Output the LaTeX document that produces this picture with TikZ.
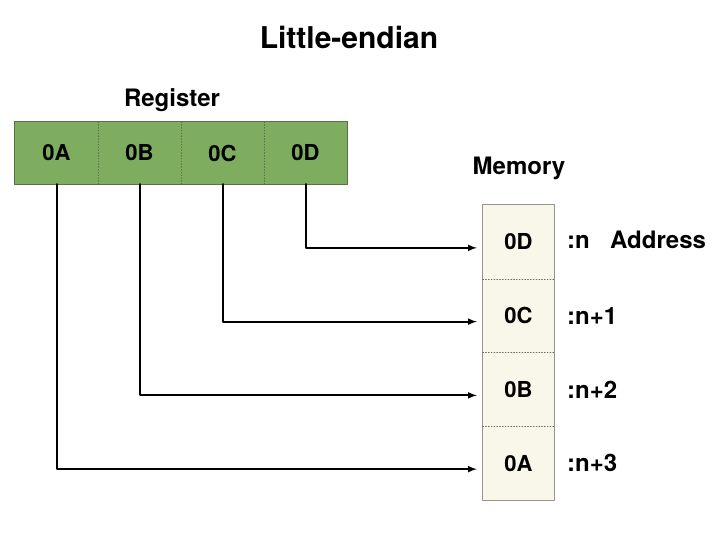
\documentclass[tikz,border=0pt]{standalone}
\usepackage{fontspec}
\setmainfont{TeX Gyre Heros}
\definecolor{regfill}{RGB}{126,173,96}
\definecolor{regedge}{RGB}{88,112,72}
\definecolor{memfill}{RGB}{249,247,233}
\definecolor{memedge}{RGB}{150,150,138}
\begin{document}
\begin{tikzpicture}[x=1pt,y=-1pt,line cap=round,line join=round,>=latex,
 regcell/.style={fill=regfill,minimum width=83pt,minimum height=62pt,inner sep=0pt,font=\fontsize{22}{22}\bfseries},
 memcell/.style={fill=memfill,minimum width=71pt,minimum height=73.75pt,inner sep=0pt,font=\fontsize{22}{22}\bfseries},
 lbl/.style={font=\fontsize{24}{24}\bfseries,inner sep=0pt}]
 \useasboundingbox(0,0)rectangle(720,534);
 \node[font=\fontsize{30}{30}\bfseries,inner sep=0pt,anchor=base](title)at(349,49){Little-endian};
 \node[lbl,anchor=base](reglabel)at(172,107){Register};
 \node[lbl,anchor=base](memlabel)at(519,175){Memory};
 \foreach \t [count=\i] in{0A,0B,0C,0D}
 \node[regcell](reg\t)at({15+83*(\i-0.5)},153){\t};
 \foreach \t/\a [count=\i] in{0D/{:n},0C/{:n+1},0B/{:n+2},0A/{:n+3}}
 {\node[memcell](mem\t)at(518.5,{205+73.75*(\i-0.5)}){\t};
 \node[lbl,anchor=west](addr\t)at(567,{205+73.75*(\i-0.5)}){\a};}
 \node[lbl,anchor=base west](address)at(addr0D.base -| 610,0){Address};
 \draw[regedge,line width=1pt](reg0A.north west)rectangle(reg0D.south east);
 \foreach \t in{0A,0B,0C}
 \draw[regedge,dotted,line width=0.8pt](reg\t.north east)--(reg\t.south east);
 \draw[memedge,line width=1pt](mem0D.north west)rectangle(mem0A.south east);
 \foreach \t in{0D,0C,0B}
 \draw[memedge!70!black,dotted,line width=0.8pt](mem\t.south west)--(mem\t.south east);
 \foreach \t in{0A,0B,0C,0D}
 \draw[->,line width=2pt,shorten >=6pt](reg\t.south)|-([yshift=-6pt]mem\t.west);
\end{tikzpicture}
\end{document}
